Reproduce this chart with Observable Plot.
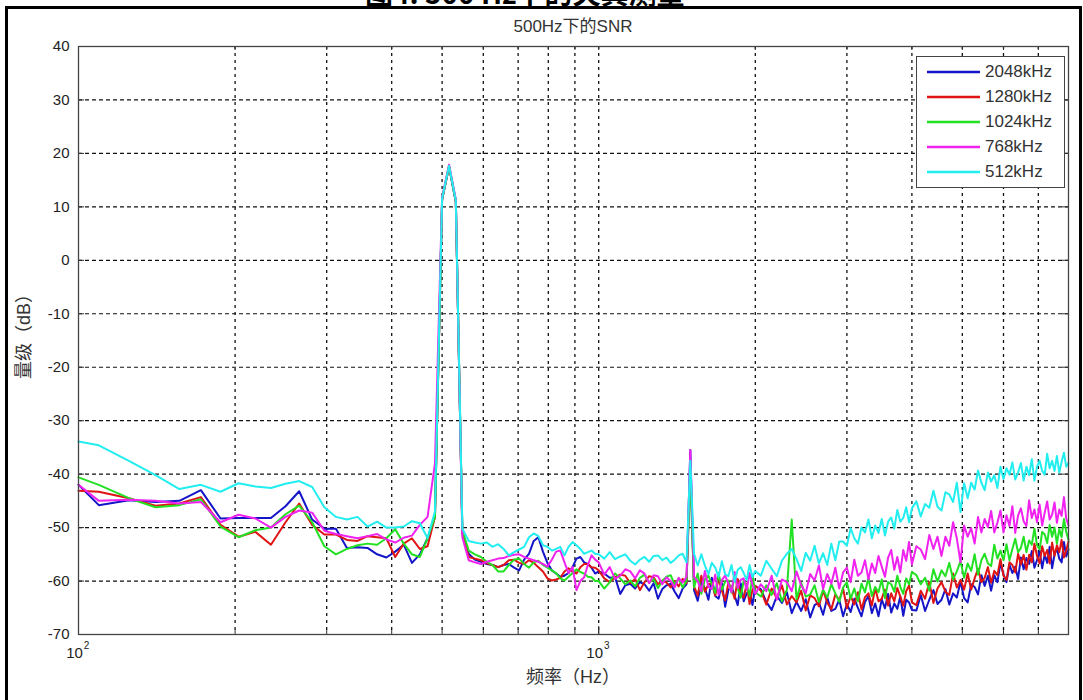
<!DOCTYPE html>
<html>
<head>
<meta charset="utf-8">
<script src="https://cdn.jsdelivr.net/npm/d3@7"></script>
<script src="https://cdn.jsdelivr.net/npm/@observablehq/plot@0.6"></script>
<style>
  body { margin: 0; background: #fff; }
  #wrap { position: relative; width: 1083px; height: 700px; overflow: hidden; background: #fff;
          font-family: "Liberation Sans", Arial, "Noto Sans CJK SC", sans-serif; color: #333; }
  #frame { position: absolute; left: 5px; top: 6px; width: 1071px; height: 760px; border: 3px solid #000; box-sizing: content-box; }
  #heading { position: absolute; left: 365px; top: -28px; font: bold 28px "Noto Sans CJK SC", sans-serif; color: #000; white-space: nowrap; }
  #chart { position: absolute; left: 0; top: 0; }
  #title { position: absolute; left: 473px; width: 200px; top: 12px; text-align: center; font-size: 17px; color: #333;
           font-family: "Liberation Sans", Arial, "Noto Sans CJK SC", sans-serif; }
  #ylab { position: absolute; left: 22px; top: 332px; transform: translate(-50%, -50%) rotate(-90deg); font-size: 18px; color: #333;
          white-space: nowrap; font-family: "Liberation Sans", "Noto Sans CJK SC", sans-serif; }
  #xlab { position: absolute; left: 573px; top: 675px; transform: translate(-50%, -50%); font-size: 18px; color: #333;
          white-space: nowrap; font-family: "Liberation Sans", "Noto Sans CJK SC", sans-serif; }
  #legend { position: absolute; left: 916px; top: 56px; width: 147px; height: 130px; border: 1px solid #444; background: #fff; }
  .item { position: absolute; left: 0; height: 20px; width: 147px; }
  .item svg { position: absolute; left: 10px; top: 0; }
  .item span { position: absolute; left: 68px; top: 0px; font-size: 17px; color: #333; }
</style>
</head>
<body>
<div id="wrap">
  <div id="heading">图4. 500 Hz下的失真测量</div>
  <div id="frame"></div>
  <div id="chart"></div>
  <div id="title">500Hz下的SNR</div>
  <div id="ylab">量级（dB）</div>
  <div id="xlab">频率（Hz）</div>
  <div id="legend"></div>
</div>
<script>
// ---- frequency bins (Hz) ----
const freqs = [
  100,109.4,125,140.6,156.3,171.9,187.5,203.1,218.8,234.4,250,265.6,281.3,296.9,312.5,328.1,343.8,359.4,375,390.6,406.3,421.9,437.5,453.1,468.8,484.4,
  500,515.6,531.3,
  546.9,562.5,578.1,593.8,609.4,625,640.6,656.3,671.9,687.5,703.1,718.8,734.4,750,765.6,781.3,796.9,812.5,828.1,843.8,859.4,875,890.6,906.3,921.9,937.5,953.1,968.8,984.4,
  1000,1025,1050,1075,1100,1125,1150,1175,1200,1225,1250,1275,1300,1325,1350,1375,1400,1425,1450,1475,1500,1525,1550,1575,1600,1625,1650,1675,1700,1725,1750,1775,1800,1825,1850,1875,1900,1925,1950,1975,2000,
  2050,2100,2150,2200,2250,2300,2350,2400,2450,2500,2550,2600,2650,2700,2750,2800,2850,2900,2950,3000,3050,3100,3150,3200,3250,3300,3350,3400,3450,3500,3550,3600,3650,3700,3750,3800,3850,3900,3950,4000,
  4080,4160,4240,4320,4400,4480,4560,4640,4720,4800,4880,4960,5040,5120,5200,5280,5360,5440,5520,5600,5680,5760,5840,5920,6000,6080,6160,6240,6320,6400,6480,6560,6640,6720,6800,6880,6960,7040,7120,7200,7280,7360,7440,7520,7600,7680,7760,7840,7920,8000
];

// ---- magnitudes (dB) per sampling rate ----
const db2048 = [
  -42.0,-45.8,-44.9,-45.2,-45.0,-43.0,-48.3,-48.2,-48.2,-48.2,-46.0,-43.2,-48.5,-50.2,-50.2,-53.8,-53.7,-53.8,-55.0,-55.6,-54.5,-53.2,-56.6,-55.0,-52.0,-48.0,
  11.3,17.5,10.9,
  -50.8,-54.9,-56.0,-56.4,-56.8,-57.0,-57.4,-57.0,-56.8,-57.5,-58.0,-56.0,-54.9,-52.5,-51.8,-54.5,-56.6,-58.0,-58.6,-59.2,-59.0,-58.5,-57.4,-55.8,-55.5,-56.5,-56.8,-57.5,-58.6,
  -58.2,-58.6,-59.4,-59.3,-62.4,-60.8,-60.5,-61.4,-60.2,-60.6,-61.8,-60.4,-63.3,-61.5,-60.8,-60.5,-62.0,-63.2,-61.4,-60.6,-35.5,
  -61.7,-63.7,-60.3,-61.3,-63.5,-59.4,-62.8,-63.3,-60.4,-64.8,-61.7,-61.0,-62.7,-64.5,-60.4,-63.8,-62.3,-61.9,-64.5,-61.0,
  -61.5,-63.9,-65.4,-62.8,-64.1,-62.1,-66.0,-63.9,-65.6,-63.4,-66.8,-64.5,-64.0,-66.3,-63.1,-65.6,-65.2,-63.5,-66.6,-64.3,-65.8,-63.3,-65.0,-66.6,-63.9,-62.8,-66.0,-64.2,-66.6,-63.4,-65.1,-62.4,-65.9,-64.2,-65.2,-62.9,-66.5,-63.5,-64.0,-65.4,
  -65.5,-62.6,-65.6,-63.5,-61.7,-64.3,-63.5,-61.5,-64.4,-62.3,-63.1,-60.1,-63.2,-64.0,-60.6,-61.1,-62.5,-58.9,-60.9,-59.0,-61.8,-58.9,-60.2,-56.6,-58.8,-60.2,-56.9,-58.5,-57.3,-59.6,-55.6,-57.8,-55.7,-56.8,-54.4,-57.5,-56.1,-54.3,-57.6,-55.0,-56.6,-53.6,-57.6,-55.0,-53.9,-55.8,-56.5,-52.7,-55.4,-54.1
];
const db1280 = [
  -43.1,-43.3,-44.5,-45.9,-45.5,-44.3,-49.5,-51.7,-50.8,-53.2,-49.0,-45.5,-49.5,-51.3,-51.3,-52.3,-52.5,-51.6,-51.8,-52.0,-55.5,-53.0,-52.0,-54.0,-53.5,-48.0,
  11.4,17.6,11.0,
  -51.2,-55.5,-55.8,-56.1,-56.7,-57.0,-57.4,-57.0,-56.1,-56.0,-56.6,-56.8,-56.1,-56.6,-57.4,-58.2,-59.5,-59.9,-59.7,-59.4,-58.2,-57.6,-58.2,-58.6,-57.4,-56.8,-56.8,-57.4,-57.5,
  -58.0,-59.5,-60.2,-59.3,-58.8,-59.0,-60.4,-59.6,-61.7,-60.2,-59.1,-59.3,-60.6,-59.9,-60.3,-61.2,-60.0,-61.0,-59.6,-60.4,-38.5,
  -61.0,-62.7,-59.0,-62.0,-60.6,-60.4,-62.7,-59.5,-61.8,-63.6,-60.4,-61.3,-63.3,-59.6,-62.6,-63.1,-60.5,-64.3,-61.6,-60.9,
  -61.8,-64.4,-61.4,-63.2,-60.8,-64.4,-62.8,-64.0,-61.8,-65.5,-62.7,-63.2,-64.7,-61.8,-64.0,-65.3,-62.5,-63.6,-61.4,-65.1,-62.8,-64.4,-62.1,-65.3,-63.0,-62.3,-64.6,-61.3,-63.8,-63.3,-61.6,-64.6,-62.3,-63.8,-61.3,-62.9,-64.6,-61.9,-60.8,-64.0,
  -64.5,-61.8,-63.3,-60.2,-64.1,-61.4,-60.2,-62.0,-62.6,-58.6,-61.2,-59.8,-61.6,-58.6,-61.6,-59.5,-57.7,-60.2,-59.4,-57.4,-60.3,-58.1,-58.9,-55.9,-59.0,-59.8,-56.5,-57.0,-58.4,-54.9,-56.9,-55.1,-57.9,-55.1,-56.5,-53.0,-55.3,-56.7,-53.5,-55.3,-54.2,-56.7,-52.8,-55.3,-53.3,-54.6,-52.3,-55.6,-54.3,-52.6
];
const db1024 = [
  -40.6,-42.0,-44.5,-46.2,-45.8,-44.7,-49.8,-51.8,-50.5,-50.0,-47.5,-45.9,-49.0,-53.5,-55.0,-54.0,-53.3,-53.0,-53.2,-52.0,-50.3,-53.0,-55.0,-55.5,-52.0,-48.0,
  11.5,17.6,11.1,
  -50.5,-54.3,-55.0,-55.5,-56.4,-57.0,-58.2,-58.2,-57.0,-56.0,-55.8,-56.8,-57.5,-56.5,-56.2,-57.0,-57.5,-58.0,-58.5,-59.5,-59.9,-59.2,-58.5,-57.8,-58.3,-58.6,-59.2,-59.3,-60.0,
  -60.0,-61.4,-60.2,-58.6,-59.5,-60.6,-59.9,-61.0,-59.4,-58.8,-60.3,-59.6,-61.3,-60.0,-59.2,-58.9,-60.7,-59.5,-61.2,-60.0,-39.5,
  -61.2,-58.6,-62.4,-59.7,-59.0,-60.6,-62.2,-58.5,-61.6,-60.1,-59.9,-62.2,-59.0,-61.3,-63.1,-59.9,-60.8,-62.8,-59.0,-62.1,
  -62.9,-60.8,-62.6,-60.4,-63.8,-61.6,-48.5,-63.4,-60.3,-62.9,-62.5,-60.8,-63.9,-61.6,-63.1,-60.6,-62.3,-63.9,-61.2,-60.2,-63.3,-61.4,-63.8,-60.5,-62.1,-59.4,-62.8,-61.1,-62.1,-59.7,-63.2,-60.2,-60.6,-62.0,-59.0,-61.1,-62.4,-59.5,-60.6,-58.3,
  -58.9,-60.6,-59.4,-61.8,-57.8,-60.1,-58.0,-59.1,-56.6,-59.7,-58.2,-56.3,-59.4,-56.7,-58.1,-55.0,-58.8,-56.1,-54.9,-56.7,-57.2,-53.2,-55.8,-54.3,-56.1,-53.1,-56.1,-54.0,-52.1,-54.6,-53.8,-51.7,-54.6,-52.4,-53.2,-50.2,-53.3,-54.1,-50.8,-51.3,-52.9,-49.5,-51.7,-50.0,-53.0,-50.3,-51.8,-48.4,-50.8,-52.3
];
const db768 = [
  -42.0,-45.0,-44.8,-45.0,-45.5,-45.2,-49.0,-47.6,-48.3,-50.0,-48.0,-46.8,-47.2,-50.6,-51.2,-51.6,-52.0,-51.6,-51.2,-52.2,-52.8,-51.9,-51.5,-49.5,-48.0,-38.0,
  11.8,17.9,11.4,
  -51.8,-56.1,-56.5,-56.8,-56.4,-56.1,-55.8,-55.7,-55.3,-55.1,-55.0,-55.5,-55.8,-56.1,-56.4,-56.8,-57.3,-56.0,-54.5,-54.3,-56.5,-58.5,-57.4,-61.7,-60.0,-59.3,-57.0,-55.2,-56.0,
  -56.5,-58.8,-57.4,-59.6,-59.0,-57.8,-58.2,-59.5,-58.0,-58.6,-60.4,-58.9,-59.1,-60.6,-59.3,-60.0,-61.2,-59.4,-60.3,-59.2,-35.5,
  -59.2,-60.0,-61.9,-58.1,-61.1,-61.5,-58.8,-62.6,-59.8,-59.0,-60.5,-62.1,-58.3,-61.3,-59.8,-59.5,-61.7,-58.5,-60.7,-62.4,
  -60.6,-61.9,-59.0,-63.5,-59.7,-60.2,-61.9,-58.2,-60.8,-62.3,-58.7,-59.9,-57.1,-61.5,-58.7,-60.5,-57.5,-61.4,-58.4,-57.5,-60.2,-56.0,-59.0,-58.4,-56.1,-59.7,-56.7,-58.5,-55.3,-57.3,-59.2,-55.6,-54.2,-57.9,-55.5,-58.4,-54.2,-56.2,-52.7,-56.9,
  -53.5,-54.1,-55.9,-51.4,-54.0,-51.7,-55.3,-51.7,-53.4,-49.0,-52.0,-56.5,-49.6,-51.7,-50.1,-53.0,-48.0,-50.9,-48.4,-49.9,-46.9,-50.9,-49.1,-46.8,-50.9,-47.7,-49.7,-46.0,-51.0,-47.7,-46.4,-48.8,-49.7,-44.9,-48.2,-46.6,-49.0,-45.7,-49.6,-47.2,-45.1,-48.5,-47.6,-45.3,-49.1,-46.6,-47.8,-44.3,-48.3,-49.6
];
const db512 = [
  -33.9,-34.6,-37.5,-40.2,-42.8,-42.0,-43.3,-41.7,-42.3,-42.6,-41.8,-41.3,-42.4,-46.2,-48.0,-48.5,-48.0,-49.8,-48.9,-50.0,-50.0,-49.8,-48.8,-49.2,-52.0,-47.0,
  11.6,17.7,11.2,
  -50.2,-52.5,-52.8,-53.0,-52.8,-53.6,-53.1,-54.0,-55.2,-54.6,-54.1,-53.6,-51.8,-51.1,-51.6,-53.3,-53.6,-54.3,-54.0,-53.6,-55.2,-53.6,-52.7,-53.3,-54.0,-54.9,-54.6,-54.3,-54.9,
  -55.0,-55.8,-54.6,-55.9,-55.4,-55.0,-56.2,-56.9,-56.0,-55.5,-56.4,-55.3,-55.2,-56.1,-55.6,-56.6,-56.0,-55.2,-54.9,-56.5,-37.5,
  -54.9,-57.1,-55.0,-57.1,-58.7,-56.6,-57.5,-59.2,-56.3,-58.7,-59.1,-57.0,-60.1,-57.9,-57.4,-58.5,-59.8,-57.0,-59.3,-58.1,
  -59.0,-56.2,-57.7,-59.1,-56.2,-54.9,-54.0,-55.9,-58.1,-54.7,-56.2,-53.4,-56.7,-54.8,-57.0,-53.0,-56.1,-52.6,-52.6,-53.4,-50.1,-52.0,-53.0,-50.0,-50.9,-48.5,-52.0,-49.6,-51.0,-48.4,-51.5,-48.9,-48.1,-50.2,-46.7,-48.9,-48.2,-46.2,-49.0,-46.4,
  -45.1,-47.9,-45.6,-46.3,-43.1,-46.1,-46.8,-43.4,-43.8,-45.2,-41.6,-47.1,-41.7,-44.5,-41.6,-42.9,-39.3,-41.6,-43.0,-39.7,-41.4,-40.2,-42.6,-38.6,-40.9,-38.9,-40.1,-37.8,-41.0,-39.7,-37.9,-41.2,-38.6,-40.2,-37.2,-41.2,-38.6,-37.5,-39.4,-40.1,-36.2,-38.9,-37.5,-39.4,-36.6,-39.7,-37.7,-36.0,-38.6,-37.9
];

// ---- series, colours, axis ticks ----
const seriesNames = ["2048kHz", "1280kHz", "1024kHz", "768kHz", "512kHz"];
const seriesValues = [db2048, db1280, db1024, db768, db512];
const seriesColors = ["#1414c8", "#e01414", "#22e022", "#f022f0", "#22eef0"];
const yTicks = [40, 30, 20, 10, 0, -10, -20, -30, -40, -50, -60, -70];
const yGrid = [30, 20, 10, 0, -10, -20, -30, -40, -50, -60];
const xGrid = [200, 300, 400, 500, 600, 700, 800, 900, 1000, 2000, 3000, 4000, 5000, 6000, 7000];
const xMajor = [100, 1000];
const xMajorBase = "10";
const xMajorExp = ["2", "3"];

const W = 1083, H = 700;
const mL = 78, mR = 15, mT = 46, mB = 66;
const innerW = W - mL - mR, innerH = H - mT - mB;

const data = [];
seriesNames.forEach((name, s) => {
  if (seriesValues[s].length !== freqs.length) console.warn(name, seriesValues[s].length, freqs.length);
  seriesValues[s].forEach((v, i) => { if (freqs[i] !== undefined) data.push({series: name, f: freqs[i], v}); });
});

const lineMarks = seriesNames.map((name) =>
  Plot.line(data.filter(d => d.series === name), {x: "f", y: "v", stroke: "series", strokeWidth: 2, curve: "linear"})
);

const chart = Plot.plot({
  width: W, height: H,
  marginLeft: mL, marginRight: mR, marginTop: mT, marginBottom: mB,
  style: {background: "transparent", color: "#222", fontFamily: "'Liberation Sans', Arial, sans-serif"},
  x: {type: "log", domain: [100, 8000], axis: null},
  y: {domain: [-70, 40], axis: null},
  color: {domain: seriesNames, range: seriesColors},
  marks: [
    Plot.ruleY(yGrid, {stroke: "#111", strokeDasharray: "4,3", strokeWidth: 1.2}),
    Plot.ruleX(xGrid, {stroke: "#111", strokeDasharray: "3,4", strokeWidth: 1.3}),
    Plot.tickX(xGrid, {x: d => d, insetTop: innerH - 4, stroke: "#333"}),
    Plot.tickX(xGrid, {x: d => d, insetBottom: innerH - 4, stroke: "#333"}),
    Plot.tickX(xMajor, {x: d => d, insetTop: innerH - 8, stroke: "#333"}),
    Plot.tickY(yGrid, {y: d => d, insetRight: innerW - 6, stroke: "#333"}),
    Plot.tickY(yGrid, {y: d => d, insetLeft: innerW - 6, stroke: "#333"}),
    ...lineMarks,
    Plot.frame({stroke: "#444", strokeWidth: 1.3}),
    Plot.axisY(yTicks, {tickSize: 0, tickPadding: 9, fontSize: 15, label: null, tickFormat: d => String(d)}),
    Plot.text(xMajor, {x: d => d, frameAnchor: "bottom", dy: 23, dx: -4, text: () => xMajorBase, fontSize: 15, fill: "#222"}),
    Plot.text(xMajor, {x: d => d, frameAnchor: "bottom", dy: 14, dx: 8, text: (d, i) => xMajorExp[i], fontSize: 10, fill: "#222"})
  ]
});
document.getElementById("chart").appendChild(chart);

// legend (HTML overlay)
const legend = document.getElementById("legend");
seriesNames.forEach((name, i) => {
  const item = document.createElement("div");
  item.className = "item";
  item.style.top = (5 + i * 25) + "px";
  item.innerHTML = `<svg width="54" height="20"><line x1="0" y1="10" x2="53" y2="10" stroke="${seriesColors[i]}" stroke-width="2.5"/></svg><span>${name}</span>`;
  legend.appendChild(item);
});
</script>
</body>
</html>
